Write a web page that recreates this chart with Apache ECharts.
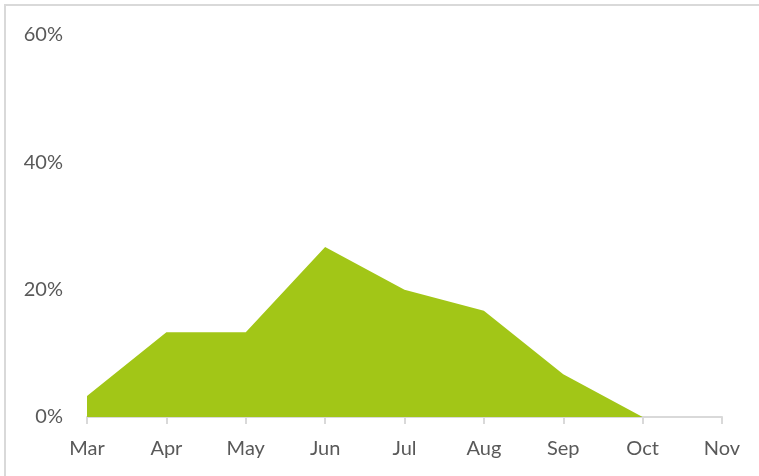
<!DOCTYPE html>
<html>
    <head>
        <meta charset="utf-8">
        <script src="https://cdn.jsdelivr.net/npm/echarts@6/dist/echarts.min.js"></script>
        <style>
            html, body { margin: 0; padding: 0; background: #fff; }
            #main { width: 759px; height: 476px; }
        </style>
    </head>
    <body>
        <div id="main"></div>
        <script>
            var months = ['Mar', 'Apr', 'May', 'Jun', 'Jul', 'Aug', 'Sep', 'Oct', 'Nov'];
            var share = [3.3, 13.3, 13.3, 26.7, 20, 16.7, 6.7, 0, null];
            var yTicks = [0, 20, 40, 60];

            var chart = echarts.init(document.getElementById('main'));
            var font = 'Lato, Open Sans, sans-serif';

            chart.setOption({
                animation: false,
                graphic: [{
                    type: 'rect',
                    shape: { x: 5, y: 5, width: 760, height: 480 },
                    style: { fill: 'none', stroke: '#d9d9d9', lineWidth: 2 },
                    silent: true
                }],
                grid: { left: 87, right: 37, top: 35, bottom: 59 },
                xAxis: {
                    type: 'category',
                    data: months,
                    boundaryGap: false,
                    axisLine: { lineStyle: { color: '#d9d9d9', width: 2 } },
                    axisTick: { show: true, length: 7, lineStyle: { color: '#d9d9d9', width: 2 } },
                    axisLabel: { color: '#595959', fontSize: 20, fontFamily: font, margin: 22 }
                },
                yAxis: {
                    type: 'value',
                    min: yTicks[0],
                    max: yTicks[yTicks.length - 1],
                    interval: 20,
                    axisLine: { show: false },
                    axisTick: { show: false },
                    splitLine: { show: false },
                    axisLabel: {
                        color: '#595959', fontSize: 20, fontFamily: font, margin: 24,
                        formatter: '{value}%'
                    }
                },
                series: [{
                    type: 'line',
                    data: share,
                    symbol: 'none',
                    lineStyle: { width: 0 },
                    areaStyle: { color: '#a2c617', opacity: 1 }
                }]
            });
        </script>
    </body>
</html>
